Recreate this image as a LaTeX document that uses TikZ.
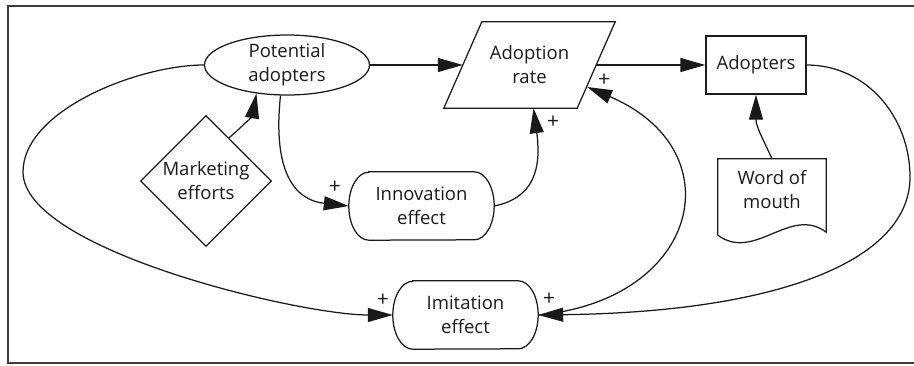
\documentclass[tikz,border=0pt]{standalone}
\usepackage{fontspec}
\setmainfont{Open Sans}
\usetikzlibrary{shapes.geometric, arrows.meta}
\definecolor{ink}{HTML}{1A1A1A}
\newcommand\stadiumoutline[1]{%
  \draw[shp] ([xshift=20pt]#1.north west) -- ([xshift=-20pt]#1.north east)
    arc[start angle=90, end angle=-90, x radius=20pt, y radius=34pt]
    -- ([xshift=20pt]#1.south west)
    arc[start angle=270, end angle=90, x radius=20pt, y radius=34pt] -- cycle;}
\begin{document}
\begin{tikzpicture}[x=1pt, y=-1pt,
  every node/.style={font=\fontsize{18.5}{24}\selectfont, text=ink, align=center},
  conn/.style={draw=ink, line width=1.25pt, -{Triangle[length=25pt, width=14pt]}},
  shp/.style={draw=ink, line width=1.25pt},
  plus/.style={font=\fontsize{21}{21}\selectfont, inner sep=0pt}]

\useasboundingbox (0,0) rectangle (914,365);
\draw[ink!85, line width=1.6pt] (914,6) -- (8,6) -- (8,363) -- (914,363);

% nodes
\node[shp, ellipse, minimum width=165pt, minimum height=60pt, inner sep=0pt] (pa) at (287,65) {};
\node (paT) at (pa.center) {Potential\\adopters};

\node[minimum width=133pt, minimum height=86pt, inner sep=0pt] (ar) at (529.5,65) {Adoption\\rate};
\draw[shp] ([xshift=19pt]ar.north west) -- ([xshift=19pt]ar.north east)
  -- ([xshift=-19pt]ar.south east) -- ([xshift=-19pt]ar.south west) -- cycle;

\node[shp, minimum width=100pt, minimum height=58pt, inner sep=0pt] (ad) at (756,65) {Adopters};

\node[minimum width=108pt, minimum height=62pt, inner sep=0pt] (wom) at (772,190) {Word of\\mouth};
\draw[shp] ([yshift=-14pt]wom.south west) -- (wom.north west) -- (wom.north east)
  -- ([yshift=-11pt]wom.south east)
  .. controls +(-36,-27) and +(37,27) .. ([yshift=-14pt]wom.south west);

\node[shp, diamond, minimum width=131pt, minimum height=131pt, inner sep=0pt] (mkt) at (206,181) {};
\node (mktT) at (mkt.center) {Marketing\\efforts};

\node[minimum width=145pt, minimum height=68pt, inner sep=0pt] (inn) at (421.5,206) {Innovation\\effect};
\stadiumoutline{inn}
\node[minimum width=145pt, minimum height=68pt, inner sep=0pt] (im) at (465.5,315) {Imitation\\effect};
\stadiumoutline{im}

% waypoints
\coordinate (wl) at (23,172);
\coordinate (ew) at (910,177);
\coordinate (arR) at ([xshift=-9pt, yshift=-22pt]ar.east);
\coordinate (arS) at ([xshift=4pt]ar.south);

% connectors
\draw[conn] (pa.east) -- (ar.west);
\draw[conn] (ar.east) -- (ad.west);
\draw[conn] (wom.north) .. controls +(-10,-22) and +(0,32) .. (ad.south);
\draw[conn] (mkt.62) .. controls +(12,-10) and +(-4,22) .. (pa.223);
\draw[conn] (pa.258) .. controls +(-8,75) and +(-55,-6) .. (inn.west);
\draw[conn] (inn.east) .. controls +(40,-8) and +(8,60) .. (arS);
\draw[conn] (im.east) .. controls +(162,-15) and +(148,63) .. (arR);
\draw[conn] (ad.east) .. controls +(60,0) and +(0,-60) .. (ew)
  .. controls +(0,83) and +(242,-3) .. (im.east);
\draw[conn] (pa.west) .. controls +(-65,0) and +(0,-62) .. (wl)
  .. controls +(0,78) and +(-93,0) .. (im.west);

% polarity labels
\node[plus] (p1) at (335,187) {+};
\node[plus] (p2) at (553,122) {+};
\node[plus] (p3) at (604,80) {+};
\node[plus] (p4) at (383,300) {+};
\node[plus] (p5) at (549,299) {+};
\end{tikzpicture}
\end{document}
